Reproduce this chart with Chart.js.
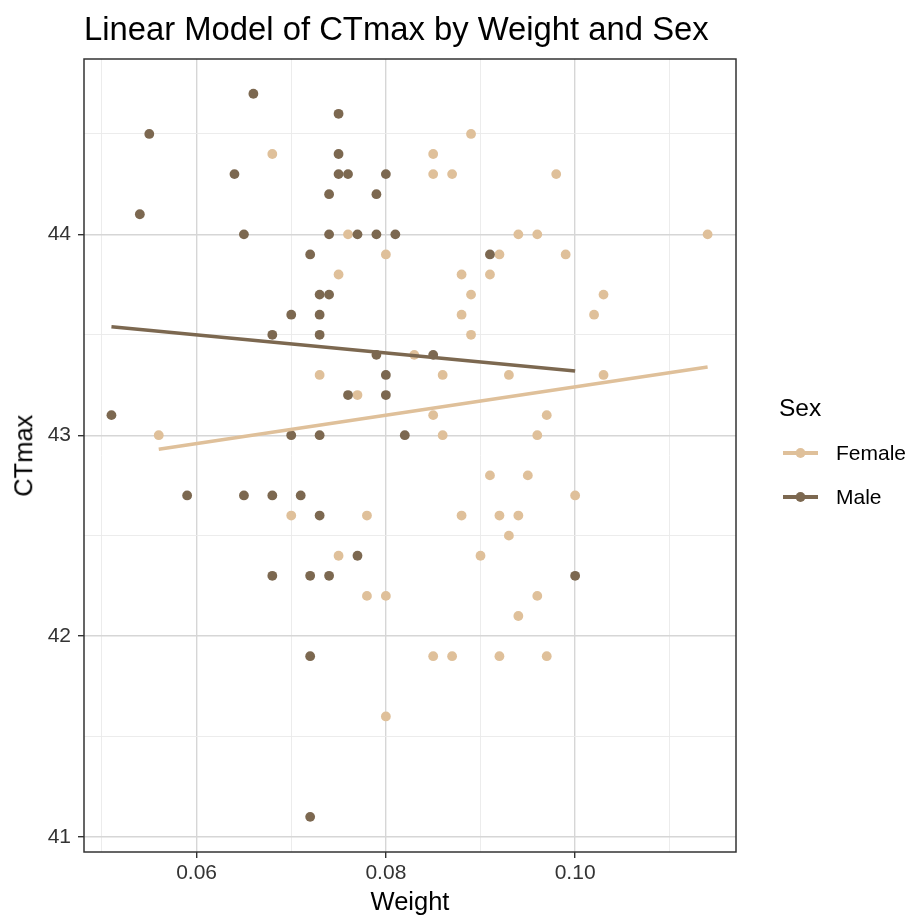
<!DOCTYPE html>
<html><head><meta charset="utf-8">
<script src="https://cdn.jsdelivr.net/npm/chart.js@4.4.0/dist/chart.umd.min.js"></script>
<style>
html,body{margin:0;padding:0;background:#fff;}
#wrap{position:relative;width:914px;height:922px;overflow:hidden;font-family:"Liberation Sans",Arial,sans-serif;}
#c{position:absolute;left:0;top:0;}
.t{position:absolute;white-space:nowrap;line-height:1;color:#000;}
</style></head><body>
<div id="wrap">
<canvas id="c" width="914" height="922"></canvas>
<div class="t" style="left:84px;top:13px;font-size:32.8px;">Linear Model of CTmax by Weight and Sex</div>
<div class="t" style="left:310px;width:200px;text-align:center;top:889px;font-size:25.5px;">Weight</div>
<div class="t" style="left:-75.7px;top:443px;width:200px;text-align:center;font-size:25.5px;transform:rotate(-90deg);">CTmax</div>
<div class="t" style="left:779px;top:396px;font-size:24.5px;">Sex</div>
<div id="legend"></div>
</div>
<script>
// ---- data ----
const seriesNames = ['Female', 'Male'];
const seriesColors = ['#DFC09A', '#7C6850'];

const femaleWeight = [0.068,0.076,0.080,0.075,0.089,0.085,0.085,0.087,0.098,0.094,0.096,0.114,0.092,0.099,0.088,0.091,0.089,0.103,0.088,0.102,0.089,0.083,0.073,0.077,0.056,0.070,0.078,0.075,0.078,0.080,0.086,0.093,0.103,0.085,0.097,0.086,0.096,0.091,0.095,0.100,0.088,0.092,0.094,0.093,0.090,0.096,0.094,0.085,0.087,0.092,0.097,0.080];
const femaleCT     = [44.4,44.0,43.9,43.8,44.5,44.4,44.3,44.3,44.3,44.0,44.0,44.0,43.9,43.9,43.8,43.8,43.7,43.7,43.6,43.6,43.5,43.4,43.3,43.2,43.0,42.6,42.6,42.4,42.2,42.2,43.3,43.3,43.3,43.1,43.1,43.0,43.0,42.8,42.8,42.7,42.6,42.6,42.6,42.5,42.4,42.2,42.1,41.9,41.9,41.9,41.9,41.6];

const maleWeight = [0.066,0.075,0.055,0.075,0.064,0.075,0.076,0.080,0.074,0.079,0.054,0.065,0.074,0.077,0.079,0.081,0.072,0.091,0.073,0.074,0.070,0.073,0.068,0.073,0.079,0.085,0.080,0.076,0.080,0.051,0.070,0.073,0.082,0.059,0.065,0.068,0.071,0.073,0.077,0.068,0.072,0.074,0.100,0.072,0.072];
const maleCT     = [44.7,44.6,44.5,44.4,44.3,44.3,44.3,44.3,44.2,44.2,44.1,44.0,44.0,44.0,44.0,44.0,43.9,43.9,43.7,43.7,43.6,43.6,43.5,43.5,43.4,43.4,43.3,43.2,43.2,43.1,43.0,43.0,43.0,42.7,42.7,42.7,42.7,42.6,42.4,42.3,42.3,42.3,42.3,41.9,41.1];

// fitted linear-model values at each group's weight range
const femaleFitWeight = [0.056, 0.114];
const femaleFitCT     = [42.93, 43.34];
const maleFitWeight   = [0.051, 0.100];
const maleFitCT       = [43.54, 43.32];

const xMajorTicks = [0.06, 0.08, 0.10];
const xMinorTicks = [0.05, 0.07, 0.09, 0.11];
const yMajorTicks = [41, 42, 43, 44];
const yMinorTicks = [41.5, 42.5, 43.5, 44.5];
const xRange = [0.0481, 0.1170];
const yRange = [40.925, 44.873];

// ---- helpers ----
function pts(xs, ys){ return xs.map((x,i)=>({x:x, y:ys[i]})); }
const has = (arr, v) => arr.some(a => Math.abs(a - v) < 1e-9);

const borderPlugin = {
  id: 'panelBorder',
  afterDraw(chart){
    const {ctx, chartArea:a} = chart;
    ctx.save();
    ctx.strokeStyle = '#333333';
    ctx.lineWidth = 1.5;
    ctx.strokeRect(a.left, a.top, a.right - a.left, a.bottom - a.top);
    ctx.restore();
  }
};

const tickFont = {family: '"Liberation Sans", Arial, sans-serif', size: 21};

new Chart(document.getElementById('c'), {
  type: 'scatter',
  data: {
    datasets: [
      {type:'line', label: seriesNames[0]+' fit', data: pts(femaleFitWeight, femaleFitCT), borderColor: seriesColors[0], borderWidth: 3.5, pointRadius: 0, fill: false, order: 0},
      {type:'line', label: seriesNames[1]+' fit', data: pts(maleFitWeight, maleFitCT), borderColor: seriesColors[1], borderWidth: 3.5, pointRadius: 0, fill: false, order: 0},
      {label: seriesNames[1], data: pts(maleWeight, maleCT), backgroundColor: seriesColors[1], borderWidth: 0, pointRadius: 4.9, order: 1},
      {label: seriesNames[0], data: pts(femaleWeight, femaleCT), backgroundColor: seriesColors[0], borderWidth: 0, pointRadius: 4.9, order: 2}
    ]
  },
  options: {
    responsive: false,
    animation: false,
    devicePixelRatio: 1,
    layout: {padding: {left: 0, top: 59, right: 178, bottom: 0}},
    plugins: {legend: {display: false}, tooltip: {enabled: false}},
    scales: {
      x: {
        type: 'linear', min: xRange[0], max: xRange[1],
        afterBuildTicks: s => { s.ticks = xMajorTicks.concat(xMinorTicks).sort((a,b)=>a-b).map(v=>({value:v})); },
        afterFit: s => { s.height = 70; },
        border: {display: false},
        grid: {
          color: c => has(xMajorTicks, c.tick.value) ? '#D6D6D6' : '#EAEAEA',
          lineWidth: c => has(xMajorTicks, c.tick.value) ? 1.4 : 0.9,
          drawTicks: true, tickLength: 6,
          tickColor: c => has(xMajorTicks, c.tick.value) ? '#333333' : 'rgba(0,0,0,0)',
          tickWidth: 1.4
        },
        ticks: {
          autoSkip: false, maxRotation: 0, padding: 3, color: '#333333', font: tickFont,
          callback: v => has(xMajorTicks, v) ? v.toFixed(2) : ''
        }
      },
      y: {
        type: 'linear', min: yRange[0], max: yRange[1],
        afterBuildTicks: s => { s.ticks = yMajorTicks.concat(yMinorTicks).sort((a,b)=>a-b).map(v=>({value:v})); },
        afterFit: s => { s.width = 84; },
        border: {display: false},
        grid: {
          color: c => has(yMajorTicks, c.tick.value) ? '#D6D6D6' : '#EAEAEA',
          lineWidth: c => has(yMajorTicks, c.tick.value) ? 1.4 : 0.9,
          drawTicks: true, tickLength: 6,
          tickColor: c => has(yMajorTicks, c.tick.value) ? '#333333' : 'rgba(0,0,0,0)',
          tickWidth: 1.4
        },
        ticks: {
          autoSkip: false, padding: 7, color: '#333333', font: tickFont,
          callback: v => has(yMajorTicks, v) ? String(v) : ''
        }
      }
    }
  },
  plugins: [borderPlugin]
});

// ---- legend (HTML text + SVG keys) ----
const leg = document.getElementById('legend');
seriesNames.forEach((name, i) => {
  const cy = 452.7 + i * 44;
  const key = document.createElementNS('http://www.w3.org/2000/svg', 'svg');
  key.setAttribute('width', '40'); key.setAttribute('height', '20');
  key.style.position = 'absolute'; key.style.left = '781px'; key.style.top = (cy - 10) + 'px';
  key.innerHTML = '<line x1="2" y1="10" x2="37" y2="10" stroke="' + seriesColors[i] + '" stroke-width="3.8"/>' +
                  '<circle cx="19.5" cy="10" r="4.9" fill="' + seriesColors[i] + '"/>';
  leg.appendChild(key);
  const lab = document.createElement('div');
  lab.className = 't';
  lab.style.left = '836px';
  lab.style.top = (cy + 7.5 - 0.8465 * 21) + 'px';
  lab.style.fontSize = '21px';
  lab.textContent = name;
  leg.appendChild(lab);
});
</script>
</body></html>
